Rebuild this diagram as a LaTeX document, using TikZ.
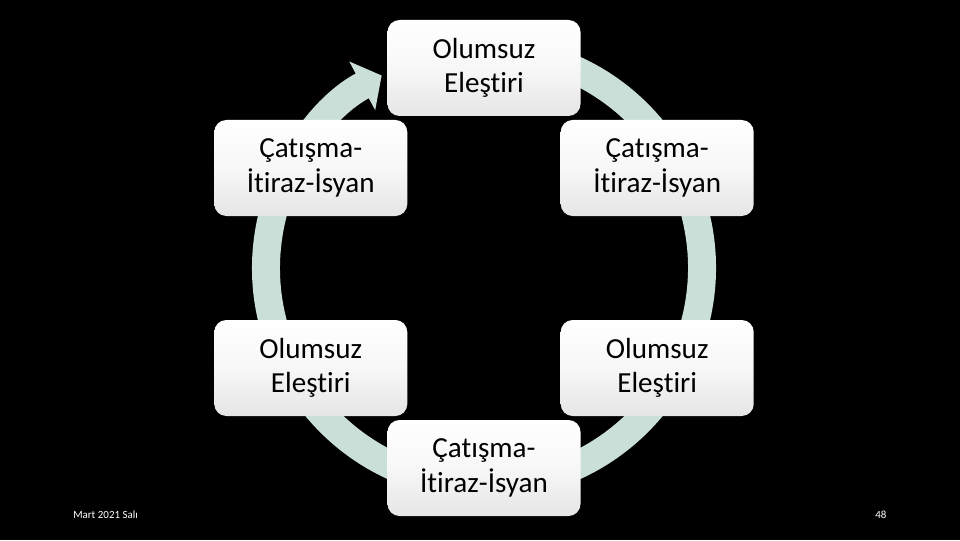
\documentclass[tikz,border=0pt]{standalone}
\usepackage{fontspec}
\setmainfont[Ligatures=NoCommon]{Carlito}
\usetikzlibrary{calc,arrows.meta,positioning}
\definecolor{ringgreen}{HTML}{CADFD8}

\begin{document}
\begin{tikzpicture}
\tikzstyle{stage} = [rounded corners=0.3cm, minimum width=4.825cm, minimum height=2.4cm, top color=white, bottom color=black!10, middle color=white!97!black, text width=4.4cm, align=center, font=\fontsize{20.7}{24.5}\selectfont]
\tikzstyle{ring} = [ringgreen, line width=0.7cm, -{Triangle[width=1.35cm,length=0.55cm]}]
\tikzstyle{footer} = [white, inner sep=0pt, anchor=base west, font=\fontsize{7.8}{9}\selectfont]
    \fill[black] (0,0) rectangle (24,13.5);
    \useasboundingbox (0,0) rectangle (24,13.5);
    \coordinate (Center) at (12.1,6.8);
    \draw[ring] ([shift={(80:5.45)}]Center) arc[start angle=80, end angle=-242, radius=5.45];

    \node[stage] (Top) at ($(Center)+(90:5)$) {Olumsuz\\Eleştiri};
    \node[stage] (UpperRight) at ($(Center)+(30:5)$) {Çatışma-\\İtiraz-İsyan};
    \node[stage] (LowerRight) at ($(Center)+(-30:5)$) {Olumsuz\\Eleştiri};
    \node[stage] (Bottom) at ($(Center)+(-90:5)$) {Çatışma-\\İtiraz-İsyan};
    \node[stage] (LowerLeft) at ($(Center)+(210:5)$) {Olumsuz\\Eleştiri};
    \node[stage] (UpperLeft) at ($(Center)+(150:5)$) {Çatışma-\\İtiraz-İsyan};

    \node[footer] (Date) at (1.825,0.55) {Mart 2021 Salı};
    \node[footer] (Page) at (21.875,0.55) {48};
\end{tikzpicture}
\end{document}
